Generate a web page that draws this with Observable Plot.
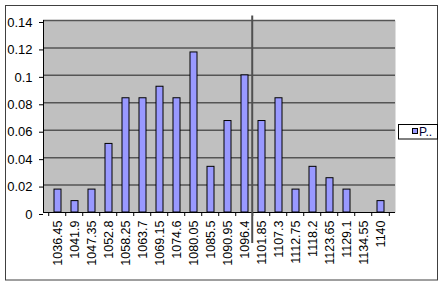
<!DOCTYPE html>
<html><head><meta charset="utf-8">
<script src="https://cdn.jsdelivr.net/npm/d3@7"></script>
<script src="https://cdn.jsdelivr.net/npm/@observablehq/plot@0.6"></script>
<style>
html,body{margin:0;padding:0;background:#fff;}
#chart{position:relative;width:445px;height:287px;}
</style></head><body><div id="chart"></div>
<script>
const categories = ["1036.45","1041.9","1047.35","1052.8","1058.25","1063.7","1069.15","1074.6","1080.05","1085.5","1090.95","1096.4","1101.85","1107.3","1112.75","1118.2","1123.65","1129.1","1134.55","1140"];
const values = [0.0167,0.0083,0.0167,0.05,0.0833,0.0833,0.0917,0.0833,0.1167,0.0333,0.0667,0.1,0.0667,0.0833,0.0167,0.0333,0.025,0.0167,0,0.0083];
const yTicks = [0,0.02,0.04,0.06,0.08,0.1,0.12,0.14];
const seriesName = "P..";
const markerCategory = "1101.85"; // vertical divider drawn at the left edge of this category

const data = categories.map((c, i) => ({bin: c, p: values[i]}));
const W = 445, H = 287;
const mL = 43, mR = 50, mT = 20, mB = 75;
const padIn = 0.6, padOut = 0.3;
const FONT = "'Liberation Sans', Arial, sans-serif";

function extras(index, scales, values, dim) {
  const step = (dim.width - dim.marginLeft - dim.marginRight) / categories.length;
  const edge = c => scales.x(c) - padOut * step;
  const y0 = scales.y(0), yTop = scales.y(0.14);
  const g = d3.create("svg:g");
  // y axis line
  g.append("line").attr("x1", mL + 0.5).attr("x2", mL + 0.5).attr("y1", yTop).attr("y2", y0)
    .attr("stroke", "#000").attr("stroke-width", 1);
  // tick marks at category boundaries
  const bounds = categories.map(edge).concat([edge(categories[categories.length - 1]) + step]);
  g.selectAll("line.t").data(bounds).join("line")
    .attr("x1", d => d).attr("x2", d => d)
    .attr("y1", y0).attr("y2", y0 + 4)
    .attr("stroke", "#000").attr("stroke-width", 1);
  // vertical divider line
  const xm = edge(markerCategory) - 0.5;
  g.append("line").attr("x1", xm).attr("x2", xm).attr("y1", 15.5).attr("y2", 243)
    .attr("stroke", "#505050").attr("stroke-width", 2);
  // outer border
  g.append("rect").attr("x", 5.5).attr("y", 5.5).attr("width", 432).attr("height", 274.5)
    .attr("fill", "none").attr("stroke", "#404040").attr("stroke-width", 1);
  // legend
  const lg = g.append("g");
  lg.append("rect").attr("x", 398.5).attr("y", 124.5).attr("width", 39).attr("height", 14.5)
    .attr("fill", "#fff").attr("stroke", "#000");
  lg.append("rect").attr("x", 412.5).attr("y", 128.5).attr("width", 5).attr("height", 5)
    .attr("fill", "#9999FF").attr("stroke", "#000");
  lg.append("text").attr("x", 419).attr("y", 136).attr("font-size", 12)
    .attr("font-family", FONT).attr("text-anchor", "start")
    .attr("fill", "#000033").text(seriesName);
  return g.node();
}

const plot = Plot.plot({
  width: W, height: H,
  marginLeft: mL, marginRight: mR, marginTop: mT, marginBottom: mB,
  style: {fontFamily: FONT, fontSize: "12px", color: "#000", background: "#fff", overflow: "visible"},
  x: {type: "band", domain: categories, paddingInner: padIn, paddingOuter: padOut},
  y: {domain: [0, 0.14]},
  marks: [
    Plot.frame({fill: "#C0C0C0", stroke: null}),
    Plot.ruleY(yTicks.filter(d => d > 0), {stroke: "#555", strokeWidth: 1.5}),
    Plot.barY(data, {x: "bin", y: "p", fill: "#9999FF", stroke: "#000", strokeWidth: 1}),
    Plot.axisY({ticks: yTicks, tickSize: 4, tickPadding: 7, dy: 2, label: null, fontSize: 13,
      tickFormat: d => d === 0 ? "0" : String(d), fill: "#000"}),
    Plot.axisX({tickSize: 0, tickRotate: -90, tickPadding: 8, label: null, fontSize: 12.5, fill: "#000"}),
    Plot.ruleY([0], {stroke: "#000", strokeWidth: 1}),
    extras
  ]
});
document.getElementById("chart").appendChild(plot);
</script></body></html>
